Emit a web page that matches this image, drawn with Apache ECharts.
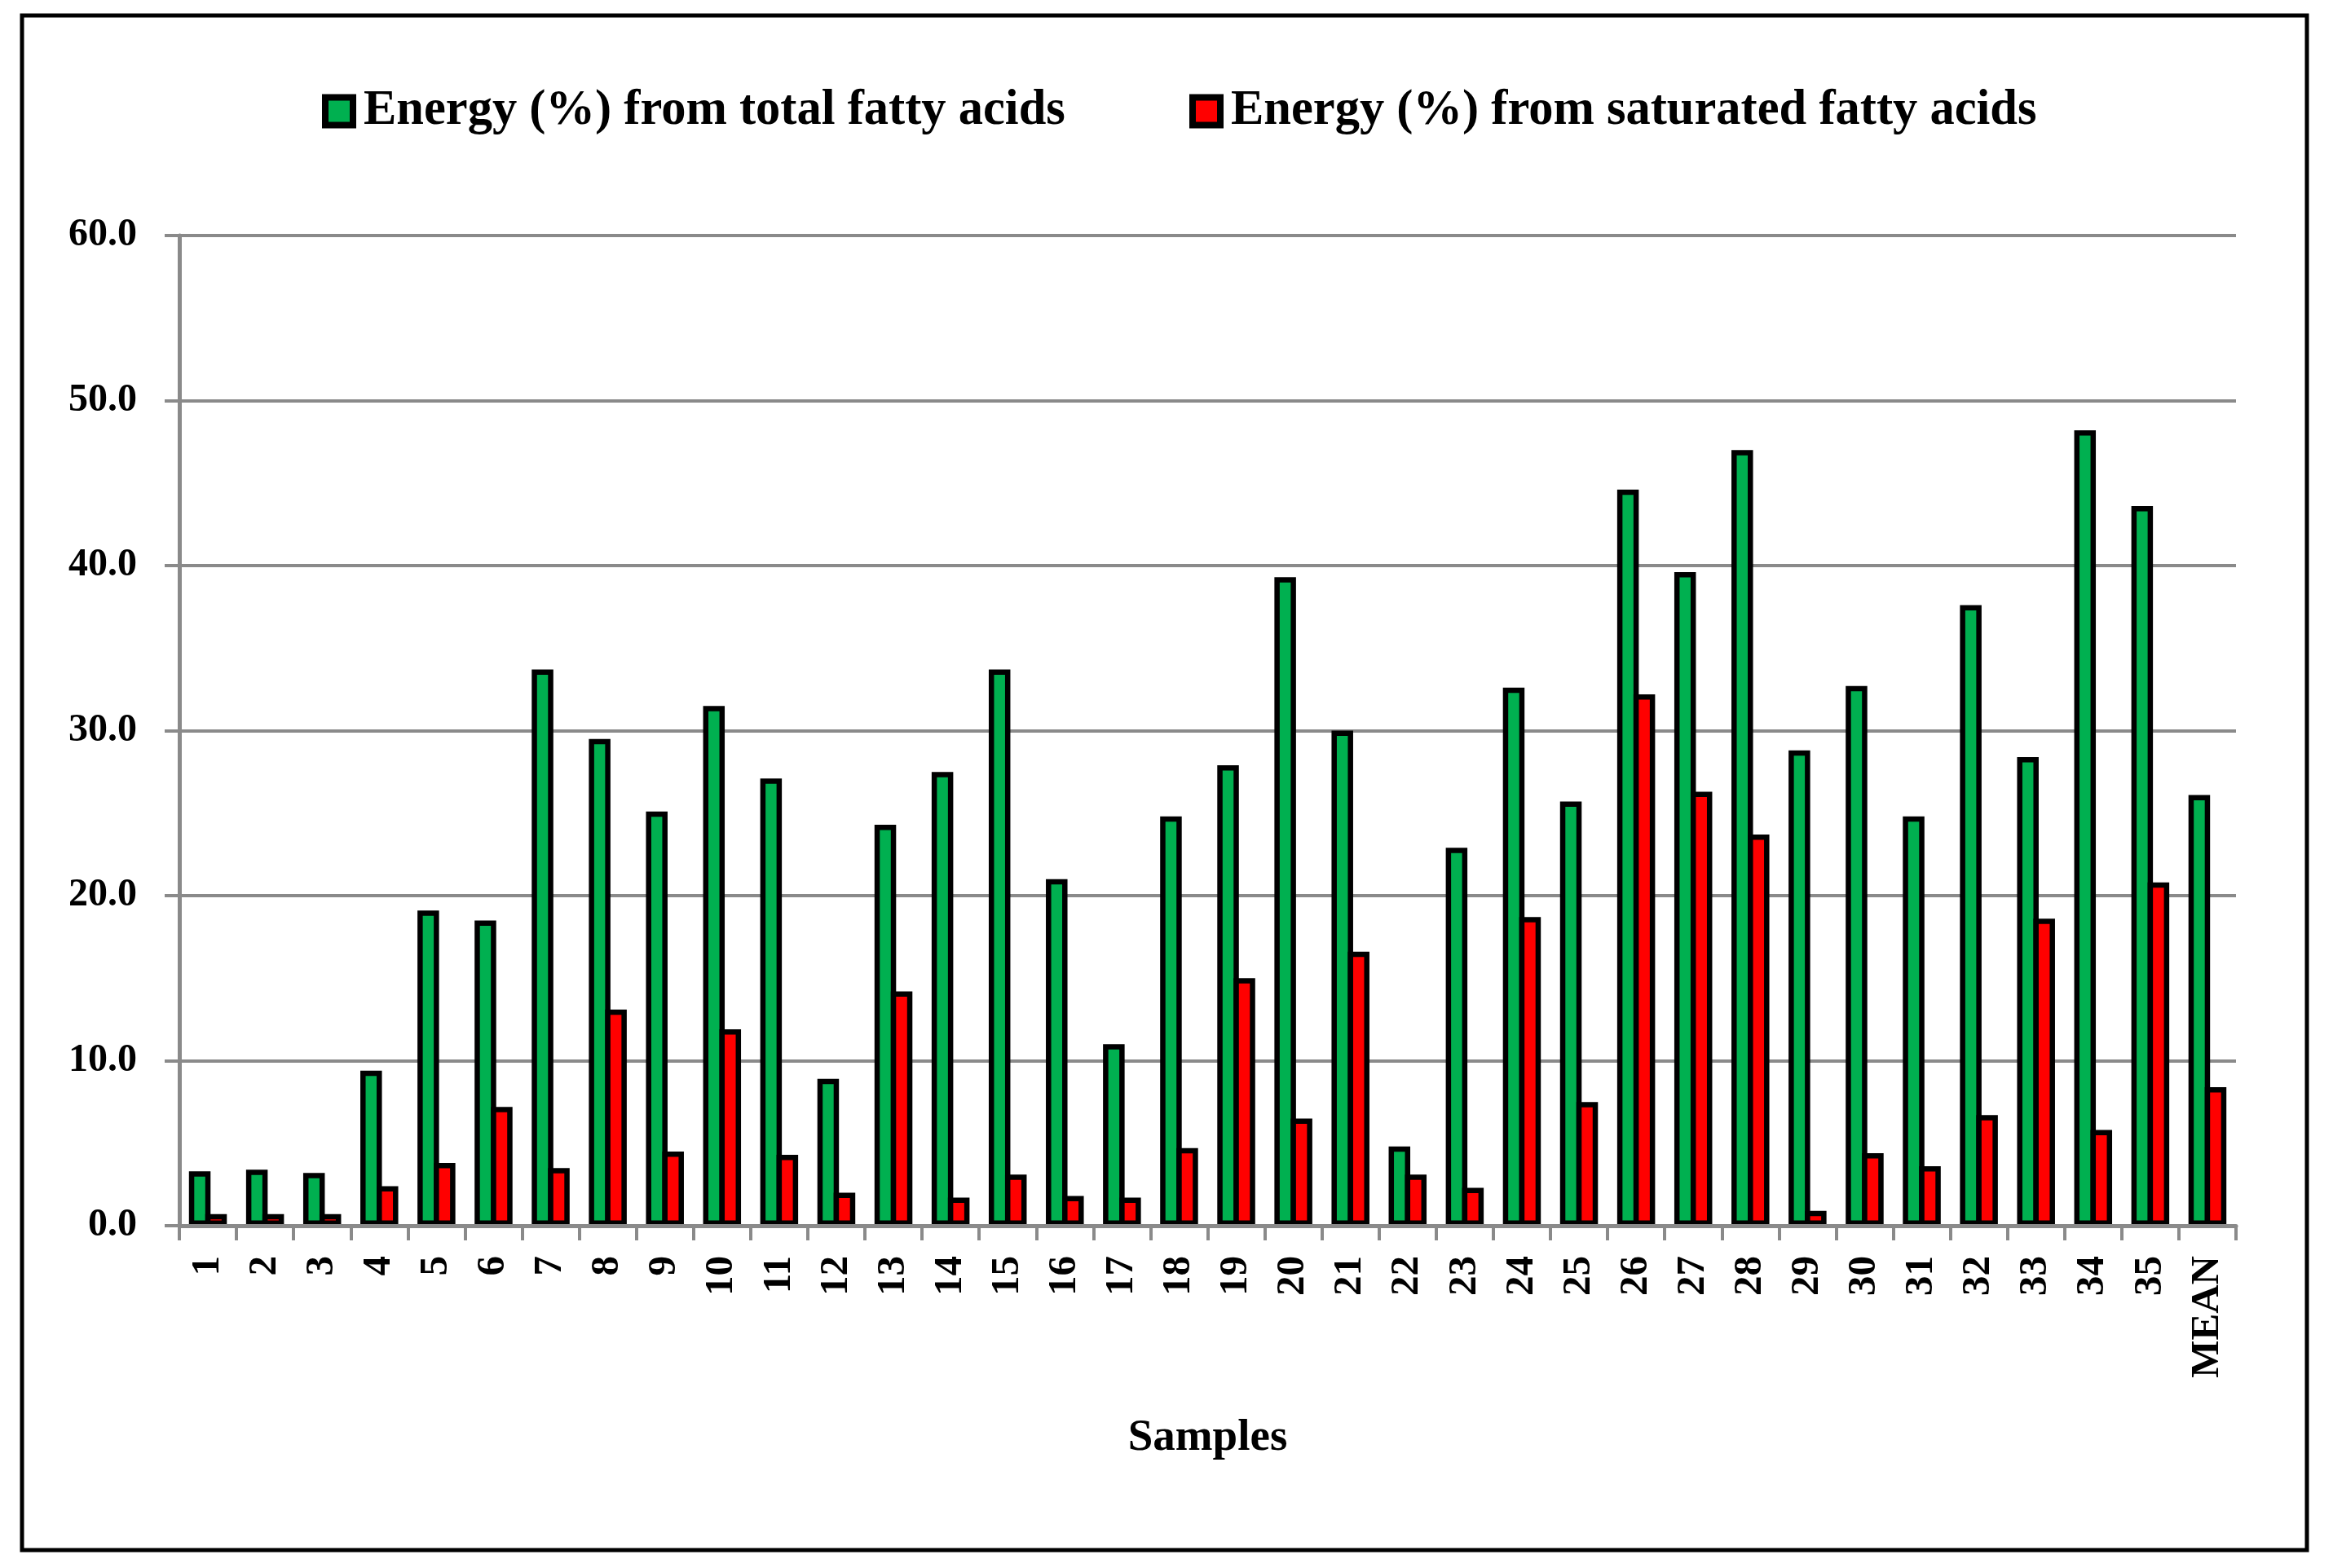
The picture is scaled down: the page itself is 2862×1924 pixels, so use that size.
<!DOCTYPE html>
<html>
<head>
<meta charset="utf-8">
<script src="https://cdn.jsdelivr.net/npm/echarts@6/dist/echarts.min.js"></script>
<style>
html,body{margin:0;padding:0;background:#fff;}
#chart{width:2862px;height:1924px;}
</style>
</head>
<body>
<div id="chart"></div>
<script>
const categories = ['1','2','3','4','5','6','7','8','9','10','11','12','13','14','15','16','17','18','19','20','21','22','23','24','25','26','27','28','29','30','31','32','33','34','35','MEAN'];
const totalFA = [3.3,3.4,3.2,9.4,19.1,18.5,33.7,29.5,25.1,31.5,27.1,8.9,24.3,27.5,33.7,21.0,11.0,24.8,27.9,39.3,30.0,4.8,22.9,32.6,25.7,44.6,39.6,47.0,28.8,32.7,24.8,37.6,28.4,48.2,43.6,26.1];
const saturatedFA = [0.7,0.7,0.7,2.4,3.8,7.2,3.5,13.1,4.5,11.9,4.3,2.0,14.2,1.7,3.1,1.8,1.7,4.7,15.0,6.5,16.6,3.1,2.3,18.7,7.5,32.2,26.3,23.7,0.9,4.4,3.6,6.7,18.6,5.8,20.8,8.4];
const yTicks = [0,10,20,30,40,50,60];
const seriesNames = ['Energy (%) from total fatty acids','Energy (%) from saturated fatty acids'];
const xTitle = 'Samples';

const FONT = '"Liberation Serif", "DejaVu Serif", serif';
const GRAY = '#8a8a8a';

const chart = echarts.init(document.getElementById('chart'), null, {renderer:'canvas'});
const legendBase = {
  top:101,
  icon:'rect', itemWidth:34, itemHeight:34,
  itemStyle:{borderColor:'#000',borderWidth:8},
  textStyle:{fontFamily:FONT,fontWeight:'bold',fontSize:60.5,color:'#000',padding:[0,0,0,8]}
};
chart.setOption({
  backgroundColor:'#fff',
  animation:false,
  graphic:[{
    type:'rect', silent:true, z:-1,
    shape:{x:27,y:19,width:2803,height:1883},
    style:{fill:'none',stroke:'#000',lineWidth:5}
  }],
  legend:[
    Object.assign({left:390, data:[seriesNames[0]]}, legendBase),
    Object.assign({left:1454, data:[seriesNames[1]]}, legendBase)
  ],
  grid:{left:220,right:119,top:289,bottom:420,containLabel:false},
  xAxis:{
    type:'category',
    data:categories,
    z:3,
    boundaryGap:true,
    name:xTitle,
    nameLocation:'middle',
    nameGap:233,
    nameTextStyle:{fontFamily:FONT,fontWeight:'bold',fontSize:55,color:'#000'},
    axisLine:{show:true,lineStyle:{color:GRAY,width:5}},
    axisTick:{show:true,interval:0,length:18,lineStyle:{color:GRAY,width:4}},
    axisLabel:{interval:0,rotate:90,margin:37,fontFamily:FONT,fontWeight:'bold',fontSize:49,color:'#000'},
    splitLine:{show:false}
  },
  yAxis:{
    type:'value',
    min:yTicks[0], max:yTicks[yTicks.length-1], interval:10,
    axisLine:{show:true,lineStyle:{color:GRAY,width:5}},
    axisTick:{show:true,length:18,lineStyle:{color:GRAY,width:4}},
    axisLabel:{margin:52,fontFamily:FONT,fontWeight:'bold',fontSize:48,color:'#000',formatter:v=>v.toFixed(1)},
    splitLine:{show:true,lineStyle:{color:GRAY,width:4}}
  },
  series:[{
    name:seriesNames[0], type:'bar', data:totalFA,
    barWidth:26.5, barGap:'-24.5%',
    itemStyle:{color:'#00B050',borderColor:'#000',borderWidth:6.5}
  },{
    name:seriesNames[1], type:'bar', data:saturatedFA,
    barWidth:26.5, barGap:'-24.5%',
    itemStyle:{color:'#FF0000',borderColor:'#000',borderWidth:6.5}
  }]
});
</script>
</body>
</html>
